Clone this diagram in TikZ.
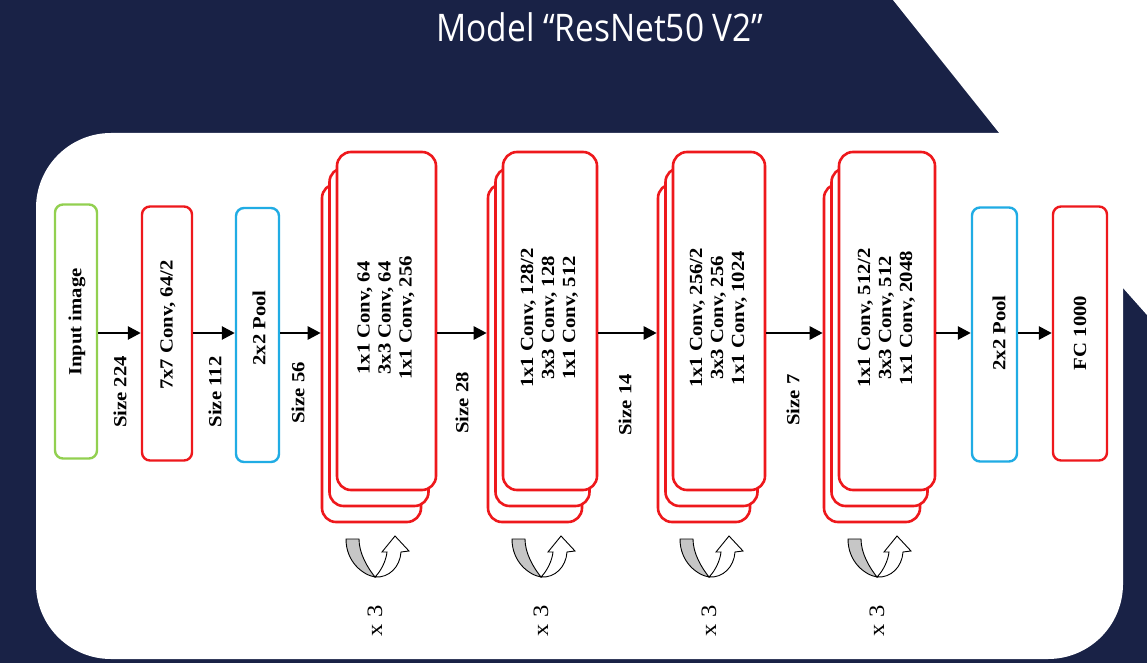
\documentclass[tikz,border=0pt]{standalone}
\usepackage{fontspec}
\usepackage{graphicx}
\setmainfont{Liberation Serif}
\newfontfamily\titlefont{Open Sans}
\usetikzlibrary{arrows.meta}
\definecolor{navy}{RGB}{25,34,70}
\definecolor{resred}{RGB}{238,24,28}
\definecolor{resgreen}{RGB}{146,208,80}
\definecolor{resblue}{RGB}{32,172,228}
\newcommand\myrot[1]{\rotatebox{90}{\scalebox{1.12}[1]{#1}}}
\newcommand\mythree[3]{\myrot{\begin{tabular}{@{}c@{}}#1\\#2\\#3\end{tabular}}}
\begin{document}
\begin{tikzpicture}[x=1pt,y=-1pt,
  arr/.style={line width=2.6pt, -{Triangle[length=13pt,width=13pt]}},
  blk/.style={draw, line width=2.4pt, fill=white, rounded corners=8pt, inner sep=0pt, minimum height=254pt},
  stk/.style={draw=resred, line width=2.6pt, fill=white, rounded corners=14pt, inner sep=0pt, minimum height=338pt},
  lab/.style={inner sep=0pt, font=\bfseries\fontsize{18.5}{21}\selectfont},
  rep/.style={inner sep=0pt, font=\fontsize{22}{24}\selectfont},
  resloop/.pic={
    \draw[line width=0.9pt, fill=gray!45] (-29,-38) .. controls (-29,-15) and (-12,-2) .. (0,0)
       .. controls (-8,-10) and (-16,-24) .. (-16,-38) -- cycle;
    \draw[line width=0.9pt, fill=white] (0,0) .. controls (6,-6) and (11,-16) .. (12,-25)
       -- (7,-25) -- (20,-41) -- (34,-26) -- (26,-25)
       .. controls (25,-10) and (14,1) .. (0,0) -- cycle;
  }]
\useasboundingbox (0,0) rectangle (1147,663);
% background
\fill[navy] (0,0) rectangle (1147,663);
\fill[white] (893,0) -- (1147,0) -- (1147,315) -- (1123,288) -- cycle;
\fill[white, rounded corners=75pt] (36,133) rectangle (1123,659);
% title
\node[text=white, inner sep=0pt, anchor=base, font=\titlefont\fontsize{38}{40}\selectfont] (title) at (600,42)
  {\scalebox{0.88}[1]{Model “ResNet50 V2”}};
% simple blocks
\node[blk, draw=resgreen, minimum width=42pt] (inp) at (76,331.5) {};
\node[blk, draw=resred, minimum width=50pt] (c7) at (167,333.5) {};
\node[blk, draw=resblue, minimum width=43pt] (p1) at (257.5,335) {};
\node[blk, draw=resblue, minimum width=45pt] (p2) at (994.5,334.5) {};
\node[blk, draw=resred, minimum width=54pt] (fc) at (1080,333.5) {};
\node[lab] (inpt) at (77,322) {\myrot{Input image}};
\node[lab] (c7t) at (168,325) {\myrot{7x7 Conv, 64/2}};
\node[lab] (p1t) at (259,328) {\myrot{2x2 Pool}};
\node[lab] (p2t) at (999,333) {\myrot{2x2 Pool}};
\node[lab] (fct) at (1080,333) {\myrot{FC 1000}};
% stacks
\foreach \n/\xo/\w in {1/337/99, 2/503/94, 3/673/92, 4/839/96}{
  \node[stk, minimum width=\w pt] (s\n b) at (\xo+\w/2-15, 353) {};
  \node[stk, minimum width=\w pt] (s\n m) at (\xo+\w/2-7.5, 337) {};
  \node[stk, minimum width=\w pt] (s\n f) at (\xo+\w/2, 321) {};
}
\node[lab] (s1t) at (s1f.center |- 0,318) {\mythree{1x1 Conv, 64}{3x3 Conv, 64}{1x1 Conv, 256}};
\node[lab] (s2t) at (s2f.center |- 0,318) {\mythree{1x1 Conv, 128/2}{3x3 Conv, 128}{1x1 Conv, 512}};
\node[lab] (s3t) at (s3f.center |- 0,318) {\mythree{1x1 Conv, 256/2}{3x3 Conv, 256}{1x1 Conv, 1024}};
\node[lab] (s4t) at (s4f.center |- 0,318) {\mythree{1x1 Conv, 512/2}{3x3 Conv, 512}{1x1 Conv, 2048}};
% arrows
\coordinate (ay) at (0,333);
\draw[arr] (inp.east |- ay) -- (c7.west |- ay);
\draw[arr] (c7.east |- ay) -- (p1.west |- ay);
\draw[arr] (p1.east |- ay) -- (s1b.west |- ay);
\draw[arr] (s1f.east |- ay) -- (s2b.west |- ay);
\draw[arr] (s2f.east |- ay) -- (s3b.west |- ay);
\draw[arr] (s3f.east |- ay) -- (s4b.west |- ay);
\draw[arr] (s4f.east |- ay) -- (p2.west |- ay);
\draw[arr] (p2.east |- ay) -- (fc.west |- ay);
% size labels
\node[lab] (z1) at (120,392) {\myrot{Size 224}};
\node[lab] (z2) at (215,392) {\myrot{Size 112}};
\node[lab] (z3) at (298,393) {\myrot{Size 56}};
\node[lab] (z4) at (462,403) {\myrot{Size 28}};
\node[lab] (z5) at (625,405) {\myrot{Size 14}};
\node[lab] (z6) at (793,400) {\myrot{Size 7}};
% loops and repeat labels
\foreach \i/\x in {1/375, 2/541, 3/709, 4/877}{
  \pic at (\x,577) {resloop};
  \node[rep] (r\i) at (\x,621) {\myrot{x 3}};
}
\end{tikzpicture}
\end{document}
